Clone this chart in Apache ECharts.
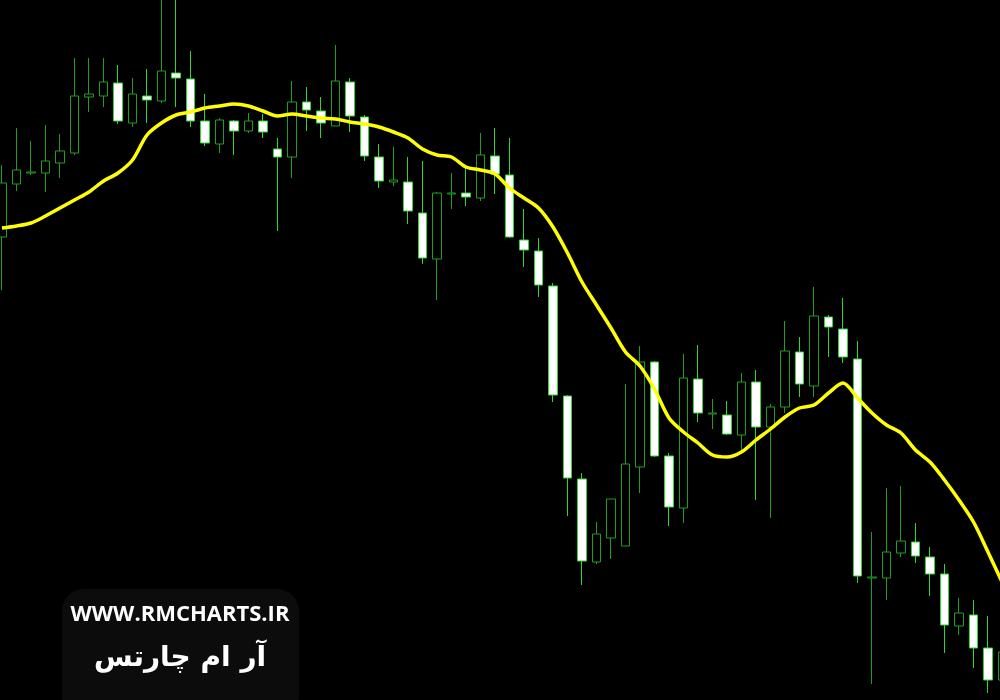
<!DOCTYPE html>
<html>
<head>
<meta charset="utf-8">
<script src="https://cdn.jsdelivr.net/npm/echarts@6/dist/echarts.min.js"></script>
<style>
html,body{margin:0;padding:0;background:#000;}
#chart{width:1000px;height:700px;}
</style>
</head>
<body>
<div id="chart"></div>
<script>
const categories = Array.from({length:70},(_, i)=>i);
const openVals  = [1.1263,1.1316,1.1327,1.1327,1.1337,1.1347,1.1403,1.1404,1.1417,1.1377,1.1404,1.1399,1.1427,1.1421,1.1379,1.1356,1.1379,1.1369,1.1379,1.1351,1.1343,1.1398,1.1389,1.1374,1.1418,1.1383,1.1343,1.1318,1.1318,1.1287,1.1241,1.1306,1.1307,1.1302,1.1344,1.1325,1.1260,1.1249,1.1214,1.1104,1.1021,1.0938,1.0962,1.0954,1.1033,1.1138,1.1044,1.0992,1.1121,1.1086,1.1085,1.1065,1.1118,1.1073,1.1093,1.1148,1.1114,1.1183,1.1171,1.1141,1.0922,1.0922,1.0947,1.0958,1.0943,1.0926,1.0874,1.0885,1.0852,1.0820];
const closeVals = [1.1317,1.1330,1.1328,1.1339,1.1349,1.1404,1.1406,1.1418,1.1379,1.1406,1.1400,1.1429,1.1422,1.1379,1.1357,1.1380,1.1369,1.1379,1.1368,1.1343,1.1398,1.1390,1.1377,1.1419,1.1384,1.1344,1.1319,1.1320,1.1289,1.1242,1.1307,1.1307,1.1303,1.1345,1.1326,1.1263,1.1250,1.1215,1.1105,1.1022,1.0939,1.0966,1.1001,1.1036,1.1138,1.1044,1.0993,1.1122,1.1087,1.1087,1.1066,1.1118,1.1073,1.1093,1.1149,1.1116,1.1184,1.1173,1.1143,1.0924,1.0923,1.0948,1.0959,1.0944,1.0926,1.0875,1.0887,1.0852,1.0820,1.0848];
const lowVals   = [1.1210,1.1309,1.1325,1.1308,1.1322,1.1345,1.1388,1.1393,1.1376,1.1373,1.1377,1.1397,1.1393,1.1373,1.1354,1.1347,1.1345,1.1367,1.1362,1.1269,1.1322,1.1369,1.1362,1.1374,1.1368,1.1339,1.1312,1.1314,1.1276,1.1236,1.1200,1.1291,1.1294,1.1299,1.1306,1.1262,1.1233,1.1203,1.1098,1.0984,1.0915,1.0936,1.0941,1.0954,1.1007,1.1043,1.0974,1.0977,1.1078,1.1071,1.1065,1.1050,1.1000,1.0982,1.1087,1.1103,1.1103,1.1143,1.1137,1.0917,1.0816,1.0900,1.0943,1.0937,1.0904,1.0847,1.0865,1.0832,1.0807,1.0795];
const highVals  = [1.1335,1.1372,1.1359,1.1375,1.1366,1.1442,1.1442,1.1442,1.1435,1.1422,1.1431,1.1505,1.1510,1.1449,1.1406,1.1382,1.1380,1.1387,1.1386,1.1362,1.1419,1.1413,1.1403,1.1455,1.1422,1.1385,1.1356,1.1353,1.1343,1.1339,1.1308,1.1327,1.1332,1.1367,1.1372,1.1362,1.1291,1.1262,1.1217,1.1105,1.1027,1.0978,1.1001,1.1116,1.1154,1.1139,1.1047,1.1146,1.1155,1.1101,1.1099,1.1127,1.1130,1.1096,1.1179,1.1163,1.1213,1.1185,1.1202,1.1159,1.0968,1.1012,1.1014,1.0977,1.0953,1.0936,1.0902,1.0900,1.0884,1.0860];
const maVals    = [1.1272,1.1274,1.1277,1.1284,1.1292,1.1300,1.1308,1.1319,1.1327,1.1340,1.1365,1.1377,1.1385,1.1388,1.1392,1.1394,1.1396,1.1394,1.1389,1.1384,1.1386,1.1384,1.1382,1.1381,1.1378,1.1376,1.1373,1.1368,1.1362,1.1351,1.1345,1.1343,1.1333,1.1330,1.1326,1.1312,1.1302,1.1292,1.1273,1.1247,1.1218,1.1195,1.1172,1.1148,1.1134,1.1111,1.1082,1.1068,1.1057,1.1045,1.1043,1.1048,1.1060,1.1071,1.1083,1.1092,1.1095,1.1107,1.1117,1.1102,1.1087,1.1075,1.1067,1.1050,1.1038,1.1020,1.1000,1.0978,1.0948,1.0917];
const watermarkUrl = 'WWW.RMCHARTS.IR';
const watermarkName = 'آر ام چارتس';

const ohlc = categories.map((c, i) => [c, openVals[i], closeVals[i], lowVals[i], highVals[i]]);
const maData = categories.map((c, i) => [c, maVals[i]]);

const chart = echarts.init(document.getElementById('chart'), null, {renderer: 'canvas'});
chart.setOption({
  backgroundColor: '#000000',
  animation: false,
  grid: {left: 0, right: 0, top: 0, bottom: 0, containLabel: false},
  xAxis: {
    type: 'value', min: -0.138, max: 68.828, show: false
  },
  yAxis: {
    type: 'value', min: 1.08, max: 1.15, show: false, scale: true
  },
  series: [
    {
      type: 'candlestick',
      data: ohlc,
      encode: {x: 0, y: [1, 2, 3, 4]},
      barWidth: 9,
      itemStyle: {
        color: '#000000',
        color0: '#ffffff',
        borderColor: '#1f9f1f',
        borderColor0: '#2fd82f',
        borderWidth: 1
      }
    },
    {
      type: 'line',
      data: maData,
      smooth: 0.3,
      symbol: 'none',
      lineStyle: {color: '#ffff00', width: 3.5},
      z: 3
    }
  ],
  graphic: [
    {
      type: 'rect',
      shape: {x: 62, y: 589, width: 237, height: 130, r: 22},
      style: {fill: '#0c0c0c'},
      z: 100
    },
    {
      type: 'text',
      x: 180, y: 615,
      style: {
        text: watermarkUrl, fill: '#ffffff',
        font: 'bold 22px "Open Sans", Lato, sans-serif',
        textAlign: 'center', textVerticalAlign: 'middle'
      },
      z: 101
    },
    {
      type: 'text',
      x: 180, y: 659,
      style: {
        text: watermarkName, fill: '#ffffff',
        font: 'bold 28px "DejaVu Sans", sans-serif',
        textAlign: 'center', textVerticalAlign: 'middle'
      },
      z: 101
    }
  ]
});
</script>
</body>
</html>
